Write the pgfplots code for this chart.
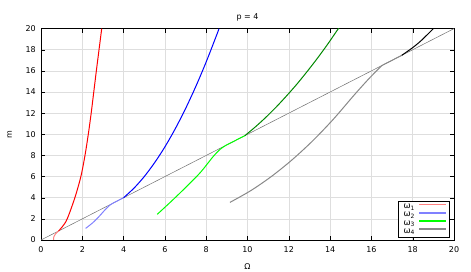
\documentclass[border=0pt]{standalone}
\usepackage{fontspec}
\setmainfont{DejaVu Sans}
\usepackage{pgfplots}
\pgfplotsset{compat=1.18}
\definecolor{omA}{RGB}{255,128,128}
\definecolor{omB}{RGB}{128,128,255}
\definecolor{omC}{RGB}{0,255,0}
\definecolor{omD}{RGB}{136,136,136}
\definecolor{dgreen}{RGB}{0,136,0}
\definecolor{diag}{RGB}{112,112,112}
\begin{document}
\fontsize{8}{10}\selectfont
\begin{tikzpicture}
\begin{axis}[
  scale only axis, width=413bp, height=211.4bp,
  xmin=0, xmax=20, ymin=0, ymax=20,
  xtick={0,2,...,20}, ytick={0,2,...,20},
  grid=major, grid style={black!13, line width=0.6pt},
  tick align=inside, major tick length=4bp,
  tick style={black, line width=0.4pt},
  axis line style={black, line width=0.6pt},
  /pgf/number format/assume math mode=true,
  tick label style={font=\fontsize{8}{10}\selectfont},
  xticklabel style={yshift=-3.5bp},
  yticklabel style={xshift=-2.5bp},
  xlabel={Ω}, ylabel={m},
  label style={font=\fontsize{8}{10}\selectfont},
  xlabel style={yshift=-6bp},
  ylabel style={yshift=8bp},
  title={p = 4}, title style={font=\fontsize{8}{10}\selectfont, yshift=-1bp},
  legend plot pos=right,
  legend image code/.code={\draw[#1,line width=1.4pt] (0bp,2.3bp) -- (27bp,2.3bp);},
  legend style={at={(0.988,0.014)}, anchor=south east, draw=black, fill=white,
    font=\fontsize{8.5}{9.5}\selectfont, inner xsep=2bp, inner ysep=1.5bp, row sep=0.3pt,
    cells={anchor=west}, nodes={inner xsep=3.5bp, inner ysep=1bp}},
  every axis plot/.append style={line width=1pt},
]
\addplot[diag, line width=0.5pt, forget plot] coordinates {(0,0) (20,20)};
% omega_1
\addplot[color=omA, smooth] coordinates {(0.61,0) (0.62,0.3) (0.7,0.58) (0.85,0.85)};
\addlegendentry{ω\textsubscript{1}}
\addplot[red, smooth, forget plot] coordinates {(0.85,0.85) (1.05,1.3) (1.27,2) (1.64,4) (1.93,6) (2.13,8) (2.29,10) (2.43,12) (2.555,14) (2.68,16) (2.81,18) (2.94,20)};
% omega_2
\addplot[color=omB, smooth] coordinates {(2.16,1.1) (2.5,1.62) (2.8,2.2) (3.1,2.85) (3.35,3.32) (3.65,3.65) (4,4)};
\addlegendentry{ω\textsubscript{2}}
\addplot[blue, smooth, forget plot] coordinates {(4,4) (4.5,4.90) (5,6.00) (5.5,7.31) (6,8.81) (6.5,10.52) (7,12.43) (7.5,14.54) (8,16.85) (8.5,19.36) (8.62,19.99)};
% omega_3
\addplot[color=omC, smooth] coordinates {(5.63,2.43) (6.25,3.55) (6.89,4.75) (7.70,6.35) (8.34,7.9) (8.7,8.62) (8.95,8.95)};
\addlegendentry{ω\textsubscript{3}}
\addplot[omC, forget plot] coordinates {(8.95,8.95) (9.88,9.88)};
\addplot[dgreen, smooth, forget plot] coordinates {(9.88,9.88) (10.38,10.70) (10.88,11.59) (11.38,12.56) (11.88,13.61) (12.38,14.72) (12.88,15.92) (13.38,17.18) (13.88,18.52) (14.38,19.94) (14.41,20)};
% omega_4
\addplot[color=omD, smooth] coordinates {(9.15,3.56) (10.15,4.66) (11.15,6.00) (12.15,7.57) (13.15,9.37) (14.15,11.41) (15.15,13.68) (15.85,15.2) (16.5,16.5)};
\addlegendentry{ω\textsubscript{4}}
\addplot[omD, forget plot] coordinates {(16.5,16.5) (17.47,17.47)};
\addplot[black, smooth, forget plot] coordinates {(17.47,17.47) (18.0,18.2) (18.43,18.9) (19.0,20)};
\end{axis}
\pgfresetboundingbox
\path (-41bp,-32bp) rectangle (430bp,240bp);
\end{tikzpicture}
\end{document}
